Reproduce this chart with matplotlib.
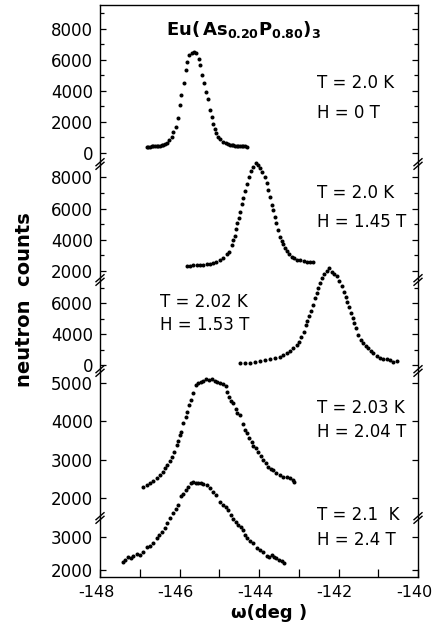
import matplotlib
matplotlib.use('Agg')
import matplotlib.pyplot as plt
from matplotlib.lines import Line2D
from matplotlib.ticker import MultipleLocator
from matplotlib.transforms import ScaledTranslation

plt.rcParams['font.family'] = 'DejaVu Sans'
plt.rcParams['axes.unicode_minus'] = False

# scan data: omega (deg) and neutron counts
p1_w = [-146.83, -146.78, -146.74, -146.70, -146.66, -146.62, -146.57, -146.53, -146.49, -146.45,
        -146.41, -146.36, -146.32, -146.26, -146.20, -146.16, -146.10, -146.05, -146.00, -145.95,
        -145.88, -145.84, -145.80, -145.75, -145.69, -145.63, -145.58, -145.52, -145.48, -145.43,
        -145.38, -145.34, -145.29, -145.23, -145.19, -145.15, -145.11, -145.07, -145.02, -144.98,
        -144.91, -144.83, -144.78, -144.73, -144.69, -144.65, -144.60, -144.56, -144.52, -144.48,
        -144.43, -144.39, -144.35, -144.31]
p1_c = [408, 405, 408, 420, 430, 440, 452, 460, 473, 500,
        538, 600, 667, 839, 1054, 1376, 1699, 2237, 3097, 3742,
        4538, 5355, 5892, 6323, 6430, 6495, 6430, 6043, 5677, 5032,
        4538, 3957, 3462, 2774, 2301, 1871, 1527, 1269, 1054, 882,
        731, 624, 580, 538, 510, 495, 480, 473, 460, 452,
        440, 430, 420, 408]

p2_w = [-145.80, -145.74, -145.65, -145.57, -145.48, -145.40, -145.32, -145.23, -145.15, -145.07,
        -144.98, -144.90, -144.81, -144.75, -144.69, -144.65, -144.60, -144.58, -144.55, -144.50,
        -144.48, -144.44, -144.39, -144.35, -144.29, -144.24, -144.20, -144.14, -144.08, -144.02,
        -143.97, -143.92, -143.85, -143.81, -143.77, -143.72, -143.68, -143.64, -143.60, -143.56,
        -143.51, -143.47, -143.43, -143.39, -143.35, -143.30, -143.25, -143.18, -143.12, -143.05,
        -142.97, -142.88, -142.80, -142.72, -142.63]
p2_c = [2300, 2342, 2363, 2385, 2385, 2406, 2427, 2470, 2534, 2598,
        2684, 2855, 3068, 3239, 3667, 3987, 4265, 4692, 5056, 5376,
        5761, 6295, 6658, 7128, 7556, 8047, 8410, 8688, 8902, 8795,
        8624, 8367, 8047, 7620, 7192, 6765, 6231, 5910, 5483, 5056,
        4628, 4201, 3923, 3709, 3496, 3282, 3111, 2919, 2812, 2726,
        2684, 2641, 2598, 2577, 2556]

p3_w = [-144.48, -144.35, -144.23, -144.10, -143.97, -143.85, -143.72, -143.60, -143.47, -143.39,
        -143.30, -143.22, -143.14, -143.05, -142.99, -142.94, -142.88, -142.82, -142.78, -142.73,
        -142.69, -142.65, -142.59, -142.55, -142.51, -142.47, -142.41, -142.36, -142.30, -142.23,
        -142.17, -142.11, -142.05, -141.98, -141.92, -141.86, -141.81, -141.78, -141.73, -141.69,
        -141.64, -141.61, -141.56, -141.50, -141.44, -141.38, -141.31, -141.25, -141.19, -141.12,
        -141.04, -140.96, -140.87, -140.79, -140.70, -140.62, -140.54]
p3_c = [2108, 2108, 2151, 2215, 2280, 2323, 2366, 2430, 2538, 2645,
        2753, 2925, 3075, 3290, 3505, 3828, 4151, 4581, 4860, 5161,
        5505, 5871, 6301, 6624, 6946, 7269, 7592, 7871, 8086, 8237,
        8022, 7871, 7742, 7441, 7097, 6731, 6409, 6086, 5763, 5376,
        5011, 4688, 4366, 3935, 3613, 3398, 3226, 3075, 2925, 2753,
        2602, 2473, 2409, 2387, 2323, 2194, 2258]

p4_w = [-146.91, -146.83, -146.74, -146.66, -146.57, -146.49, -146.41, -146.36, -146.31, -146.24,
        -146.20, -146.14, -146.07, -146.03, -145.99, -145.95, -145.90, -145.84, -145.80, -145.75,
        -145.71, -145.65, -145.58, -145.53, -145.47, -145.40, -145.33, -145.27, -145.19, -145.11,
        -145.05, -144.98, -144.90, -144.83, -144.80, -144.75, -144.70, -144.65, -144.58, -144.55,
        -144.48, -144.41, -144.35, -144.31, -144.24, -144.18, -144.14, -144.08, -144.02, -143.96,
        -143.89, -143.82, -143.77, -143.71, -143.64, -143.56, -143.47, -143.40, -143.30, -143.22,
        -143.15, -143.12]
p4_c = [2279, 2339, 2383, 2453, 2514, 2601, 2687, 2775, 2862, 2975,
        3079, 3210, 3384, 3497, 3645, 3732, 3950, 4124, 4254, 4428,
        4559, 4750, 4950, 4994, 5037, 5063, 5098, 5081, 5098, 5063,
        5037, 4994, 4977, 4924, 4776, 4646, 4541, 4472, 4315, 4211,
        4167, 3932, 3775, 3688, 3558, 3471, 3358, 3297, 3210, 3097,
        2992, 2905, 2801, 2749, 2731, 2661, 2601, 2557, 2540, 2514,
        2470, 2418]

p5_w = [-147.43, -147.37, -147.29, -147.23, -147.16, -147.08, -146.99, -146.91, -146.83, -146.74,
        -146.66, -146.57, -146.51, -146.45, -146.36, -146.31, -146.24, -146.16, -146.09, -146.03,
        -145.97, -145.90, -145.84, -145.78, -145.72, -145.65, -145.58, -145.53, -145.47, -145.40,
        -145.32, -145.23, -145.15, -145.07, -144.98, -144.90, -144.83, -144.77, -144.71, -144.65,
        -144.58, -144.52, -144.46, -144.39, -144.35, -144.29, -144.23, -144.14, -144.06, -143.97,
        -143.89, -143.81, -143.74, -143.68, -143.62, -143.56, -143.49, -143.43, -143.37]
p5_c = [2250, 2300, 2380, 2350, 2420, 2480, 2450, 2550, 2680, 2720,
        2800, 2950, 3050, 3150, 3250, 3400, 3550, 3700, 3820, 3950,
        4220, 4280, 4400, 4500, 4600, 4650, 4620, 4620, 4600, 4580,
        4550, 4450, 4350, 4250, 4050, 3950, 3900, 3800, 3650, 3520,
        3450, 3350, 3280, 3200, 3050, 2950, 2880, 2820, 2650, 2600,
        2550, 2420, 2380, 2450, 2380, 2350, 2300, 2280, 2220]

temps = ['T = 2.0 K', 'T = 2.0 K', 'T = 2.02 K', 'T = 2.03 K', 'T = 2.1  K']
fields = ['H = 0 T', 'H = 1.45 T', 'H = 1.53 T', 'H = 2.04 T', 'H = 2.4 T']

ytick_vals = [[0, 2000, 4000, 6000, 8000],
              [2000, 4000, 6000, 8000],
              [2000, 4000, 6000],
              [2000, 3000, 4000, 5000],
              [2000, 3000]]
ytick_labels = [['0', '2000', '4000', '6000', '8000'],
                ['2000', '4000', '6000', '8000'],
                ['0', '4000', '6000'],
                ['2000', '3000', '4000', '5000'],
                ['2000', '3000']]
ylims = [(-710, 9548), (1423, 8859), (1613, 7484), (1478, 5316), (1790, 3562)]
minor_steps = [1000, 1000, 1000, 1000, 1000]

xs = [p1_w, p2_w, p3_w, p4_w, p5_w]
ys = [p1_c, p2_c, p3_c, p4_c, p5_c]

W, H = 434, 632
fig = plt.figure(figsize=(W / 100, H / 100), dpi=100)

x0, x1 = 100, 418
edges = [5, 164, 280, 371, 518, 577]
# where the T/H labels sit (pixels): left x, y of T line, y of H line
label_pos = [(317, 83, 113), (317, 193, 222), (160, 302, 325), (317, 408, 432), (317, 515, 540)]

axes = []
for i in range(5):
    top, bot = edges[i], edges[i + 1]
    ax = fig.add_axes([x0 / W, 1 - bot / H, (x1 - x0) / W, (bot - top) / H])
    axes.append(ax)
    ax.plot(xs[i], ys[i], 'o', color='black', ms=2.9, mec='none', clip_on=False)
    ax.set_xlim(-148, -140)
    ax.set_ylim(*ylims[i])
    ax.set_yticks(ytick_vals[i])
    ax.set_yticklabels(ytick_labels[i])
    ax.yaxis.set_minor_locator(MultipleLocator(minor_steps[i]))
    ax.tick_params(axis='y', which='both', direction='in', left=True, right=True,
                   labelsize=12, pad=5)
    ax.tick_params(axis='y', which='major', length=4, width=0.9)
    ax.tick_params(axis='y', which='minor', length=3, width=0.9)
    for s in ax.spines.values():
        s.set_linewidth(1.0)
    if i > 0:
        ax.spines['top'].set_visible(False)
    if i < 4:
        ax.spines['bottom'].set_visible(False)
        ax.tick_params(axis='x', which='both', bottom=False, labelbottom=False)
    else:
        ax.set_xticks([-148, -146, -144, -142, -140])
        ax.xaxis.set_minor_locator(MultipleLocator(1))
        ax.tick_params(axis='x', which='both', direction='in', top=False, labelsize=11.5, pad=6)
        ax.tick_params(axis='x', which='major', length=6, width=0.9)
        ax.tick_params(axis='x', which='minor', length=6, width=0.9)
        shift = ScaledTranslation(-0.04, 0, fig.dpi_scale_trans)
        for lab in ax.get_xticklabels():
            lab.set_transform(lab.get_transform() + shift)
    lx, ty, hy = label_pos[i]
    fig.text(lx / W, 1 - ty / H, temps[i], fontsize=12, va='center', ha='left')
    fig.text(lx / W, 1 - hy / H, fields[i], fontsize=12, va='center', ha='left')

# axis break marks on both side spines
for y in edges[1:-1]:
    for x in (x0, x1):
        for dy in (-1.8, 1.8):
            fig.add_artist(Line2D([(x - 4) / W, (x + 4) / W],
                                  [1 - (y + dy + 3.5) / H, 1 - (y + dy - 3.5) / H],
                                  color='black', lw=1.0))

fig.text(244 / W, 1 - 30 / H, r'$\mathbf{Eu(\,As_{0.20}P_{0.80})_3}$',
         fontsize=13, ha='center', va='center')
fig.text(25 / W, 1 - 300 / H, 'neutron  counts', rotation=90, fontsize=14,
         fontweight='bold', ha='center', va='center')
fig.text(269 / W, 1 - 613 / H, 'ω(deg )', fontsize=13, fontweight='bold',
         ha='center', va='center')

fig.savefig('out.png', dpi=100)
